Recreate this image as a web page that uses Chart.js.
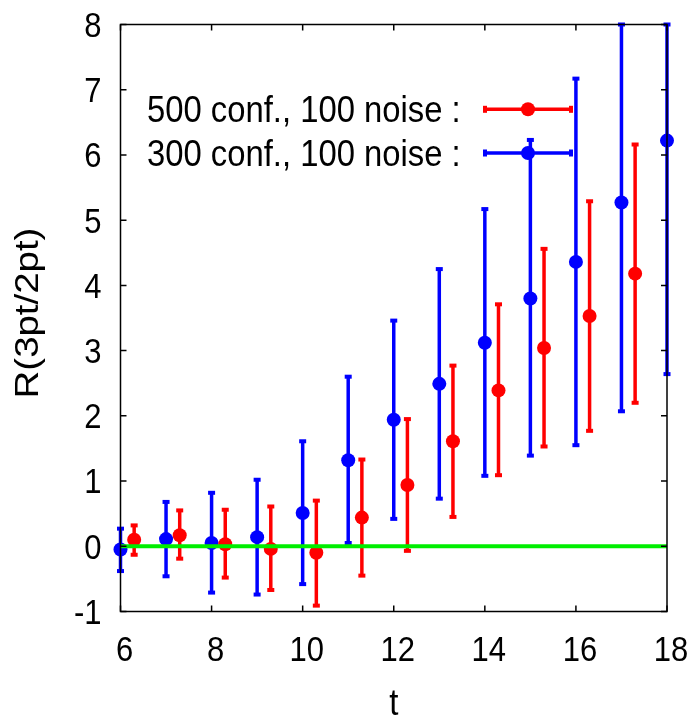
<!DOCTYPE html>
<html>
<head>
<meta charset="utf-8">
<script src="https://cdn.jsdelivr.net/npm/chart.js@4/dist/chart.umd.min.js"></script>
<style>
  html, body { margin: 0; padding: 0; background: #fff; }
  #wrap { width: 694px; height: 718px; }
</style>
</head>
<body>
<div id="wrap"><canvas id="c" width="694" height="718"></canvas></div>
<script>
// blue: 300 conf., 100 noise (at integer t)
const tBlue = [6, 7, 8, 9, 10, 11, 12, 13, 14, 15, 16, 17, 18];
const blueR = [-0.05, 0.11, 0.05, 0.14, 0.51, 1.32, 1.94, 2.49, 3.12, 3.80, 4.36, 5.27, 6.22];
const blueLo = [-0.38, -0.46, -0.71, -0.74, -0.58, 0.05, 0.42, 0.73, 1.08, 1.39, 1.55, 2.07, 2.64];
const blueHi = [0.27, 0.68, 0.82, 1.02, 1.61, 2.60, 3.46, 4.25, 5.17, 6.23, 7.17, 8.47, 9.80];

// red: 500 conf., 100 noise (shifted by 0.3 in t)
const tRed = [6.3, 7.3, 8.3, 9.3, 10.3, 11.3, 12.3, 13.3, 14.3, 15.3, 16.3, 17.3];
const redR = [0.10, 0.17, 0.03, -0.04, -0.10, 0.44, 0.94, 1.61, 2.39, 3.04, 3.53, 4.18];
const redLo = [-0.13, -0.19, -0.48, -0.67, -0.91, -0.45, -0.07, 0.45, 1.09, 1.53, 1.77, 2.20];
const redHi = [0.32, 0.55, 0.56, 0.61, 0.70, 1.33, 1.95, 2.77, 3.71, 4.56, 5.29, 6.16];

const xTicks = [6, 8, 10, 12, 14, 16, 18];
const yTicks = [-1, 0, 1, 2, 3, 4, 5, 6, 7, 8];
const legendLabels = ['500 conf., 100 noise :', '300 conf., 100 noise :'];

const RED = '#ff0000';
const BLUE = '#0000ff';
const GREEN = '#00ee00';
const FONT = '"Liberation Sans", Arial, sans-serif';

const toPts = (xs, ys) => xs.map((x, i) => ({ x: x, y: ys[i] }));

// the original's lettering is a bit taller than wide, so text gets a vertical stretch
function tallText(ctx, str, x, y, size, stretch, align) {
  ctx.save();
  ctx.translate(x, y);
  ctx.scale(1, stretch);
  ctx.font = size + 'px ' + FONT;
  ctx.textAlign = align;
  ctx.textBaseline = 'alphabetic';
  ctx.fillStyle = '#000';
  ctx.fillText(str, 0, 0);
  ctx.restore();
}

// error bars, drawn under the points
const errorBars = {
  id: 'errorBars',
  beforeDatasetsDraw(chart) {
    const ctx = chart.ctx;
    const xs = chart.scales.x, ys = chart.scales.y;
    const sets = [
      { t: tBlue, lo: blueLo, hi: blueHi, color: BLUE },
      { t: tRed, lo: redLo, hi: redHi, color: RED }
    ];
    ctx.save();
    sets.forEach(s => {
      ctx.strokeStyle = s.color;
      ctx.fillStyle = s.color;
      ctx.lineWidth = 3.5;
      s.t.forEach((t, i) => {
        const px = xs.getPixelForValue(t);
        const top = ys.getPixelForValue(Math.min(s.hi[i], ys.max));
        const bot = ys.getPixelForValue(Math.max(s.lo[i], ys.min));
        ctx.beginPath();
        ctx.moveTo(px, top);
        ctx.lineTo(px, bot);
        ctx.stroke();
        ctx.fillRect(px - 3.5, top - 2, 7, 4);
        ctx.fillRect(px - 3.5, bot - 2, 7, 4);
      });
    });
    ctx.restore();
  }
};

// gnuplot-like frame with inward ticks, tick labels, axis titles and the key
const frameAndKey = {
  id: 'frameAndKey',
  afterDraw(chart) {
    const ctx = chart.ctx;
    const a = chart.chartArea;
    const xs = chart.scales.x, ys = chart.scales.y;
    ctx.save();
    ctx.strokeStyle = '#000';
    ctx.lineWidth = 1.5;
    ctx.strokeRect(a.left, a.top, a.right - a.left, a.bottom - a.top);
    ctx.beginPath();
    xs.ticks.forEach(tk => {
      const px = xs.getPixelForValue(tk.value);
      ctx.moveTo(px, a.bottom); ctx.lineTo(px, a.bottom - 6);
      ctx.moveTo(px, a.top); ctx.lineTo(px, a.top + 6);
    });
    ys.ticks.forEach(tk => {
      const py = ys.getPixelForValue(tk.value);
      ctx.moveTo(a.left, py); ctx.lineTo(a.left + 6, py);
      ctx.moveTo(a.right, py); ctx.lineTo(a.right - 6, py);
    });
    ctx.stroke();
    ctx.restore();

    // tick labels
    xs.ticks.forEach(tk => {
      tallText(ctx, String(tk.value), xs.getPixelForValue(tk.value) + 4, a.bottom + 49, 31, 1.12, 'center');
    });
    ys.ticks.forEach(tk => {
      tallText(ctx, String(tk.value), a.left - 19, ys.getPixelForValue(tk.value) + 12.4, 31, 1.12, 'right');
    });

    // axis titles
    tallText(ctx, 't', (a.left + a.right) / 2, 715, 33, 1.1, 'center');
    ctx.save();
    ctx.translate(38, 313);
    ctx.rotate(-Math.PI / 2);
    ctx.scale(1.13, 1);
    ctx.font = '34px ' + FONT;
    ctx.textAlign = 'center';
    ctx.textBaseline = 'alphabetic';
    ctx.fillStyle = '#000';
    ctx.fillText('R(3pt/2pt)', 0, 0);
    ctx.restore();

    // key
    const colors = [RED, BLUE];
    const rows = [109.3, 153];
    rows.forEach((y, i) => {
      tallText(ctx, legendLabels[i], 147, y + 13, 32.8, 1.12, 'left');
      ctx.save();
      ctx.strokeStyle = colors[i];
      ctx.fillStyle = colors[i];
      ctx.lineWidth = 3.5;
      ctx.beginPath();
      ctx.moveTo(485, y); ctx.lineTo(571, y);
      ctx.stroke();
      ctx.fillRect(483, y - 3.5, 4, 7);
      ctx.fillRect(569, y - 3.5, 4, 7);
      ctx.beginPath();
      ctx.arc(528, y, 7, 0, Math.PI * 2);
      ctx.fill();
      ctx.restore();
    });
  }
};

new Chart(document.getElementById('c'), {
  type: 'scatter',
  data: {
    datasets: [
      {
        type: 'line',
        data: [{ x: 6, y: 0 }, { x: 18, y: 0 }],
        borderColor: GREEN,
        borderWidth: 4,
        pointRadius: 0
      },
      {
        label: legendLabels[0],
        data: toPts(tRed, redR),
        backgroundColor: RED,
        borderWidth: 0,
        pointRadius: 7
      },
      {
        label: legendLabels[1],
        data: toPts(tBlue, blueR),
        backgroundColor: BLUE,
        borderWidth: 0,
        pointRadius: 7
      }
    ]
  },
  options: {
    responsive: false,
    animation: false,
    clip: false,
    layout: { padding: { top: 24.5, right: 27, left: 0, bottom: 0 } },
    plugins: { legend: { display: false }, tooltip: { enabled: false } },
    scales: {
      x: {
        type: 'linear', min: 6, max: 18,
        grid: { display: false },
        border: { display: false },
        afterBuildTicks: s => { s.ticks = xTicks.map(v => ({ value: v })); },
        afterFit: s => { s.height = 106.5; },
        ticks: { display: false }
      },
      y: {
        type: 'linear', min: -1, max: 8,
        grid: { display: false },
        border: { display: false },
        afterBuildTicks: s => { s.ticks = yTicks.map(v => ({ value: v })); },
        afterFit: s => { s.width = 120.5; },
        ticks: { display: false }
      }
    }
  },
  plugins: [errorBars, frameAndKey]
});
</script>
</body>
</html>
